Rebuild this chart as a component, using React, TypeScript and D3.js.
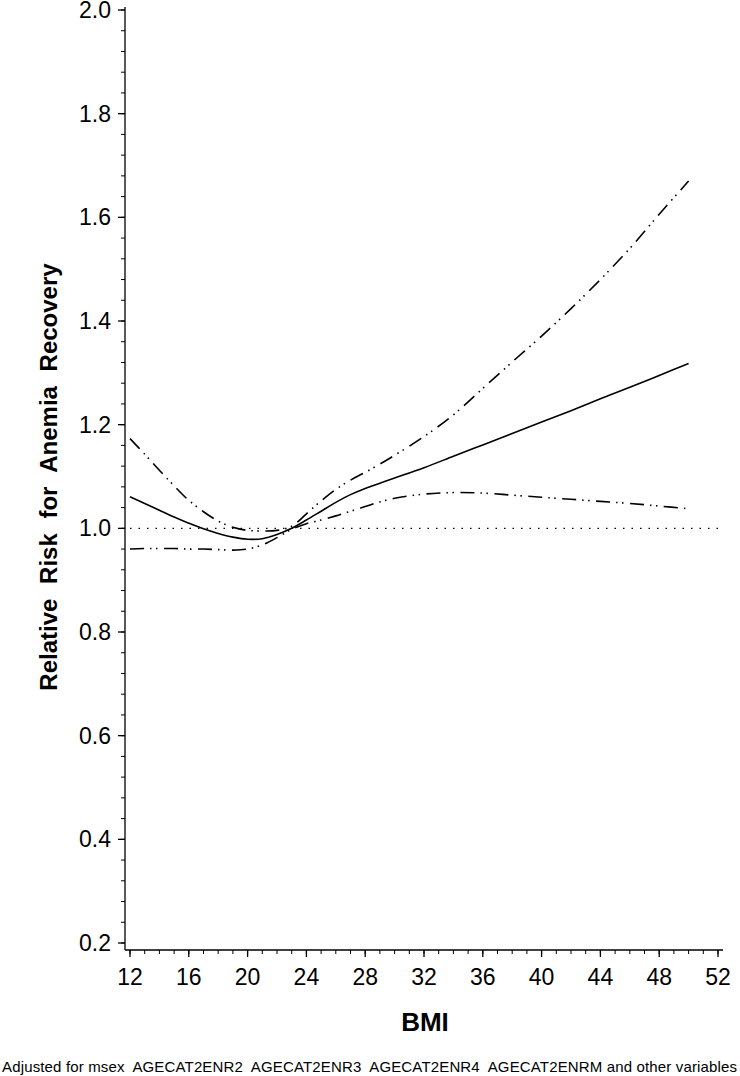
import React from "react";
import * as d3 from "d3";

const bmi = [12, 13, 14, 15, 16, 17, 18, 19, 20, 21, 22, 23, 24, 25, 26, 27, 28, 29, 30, 32, 34, 36, 38, 40, 42, 44, 46, 48, 50];
const estimate = [1.061, 1.048, 1.035, 1.022, 1.010, 0.999, 0.990, 0.983, 0.979, 0.980, 0.988, 1.000, 1.016, 1.033, 1.050, 1.065, 1.077, 1.087, 1.097, 1.117, 1.139, 1.161, 1.183, 1.205, 1.227, 1.250, 1.272, 1.295, 1.318];
const upper = [1.173, 1.143, 1.112, 1.082, 1.054, 1.032, 1.014, 1.002, 0.996, 0.995, 0.996, 1.004, 1.028, 1.053, 1.075, 1.093, 1.108, 1.124, 1.141, 1.177, 1.219, 1.270, 1.321, 1.371, 1.424, 1.480, 1.540, 1.606, 1.670];
const lower = [0.960, 0.961, 0.961, 0.961, 0.960, 0.960, 0.959, 0.958, 0.960, 0.968, 0.982, 0.998, 1.009, 1.016, 1.024, 1.033, 1.042, 1.051, 1.058, 1.066, 1.069, 1.068, 1.064, 1.060, 1.056, 1.052, 1.048, 1.043, 1.038];

const xMajorTicks = [12, 16, 20, 24, 28, 32, 36, 40, 44, 48, 52];
const yMajorTicks = [0.2, 0.4, 0.6, 0.8, 1.0, 1.2, 1.4, 1.6, 1.8, 2.0];
const referenceValue = 1.0;

const yTitle = "Relative Risk for Anemia Recovery";
const xTitle = "BMI";
const footnote = "Adjusted for msex  AGECAT2ENR2  AGECAT2ENR3  AGECAT2ENR4  AGECAT2ENRM and other variables";

const FONT = "'Liberation Sans', Arial, Helvetica, sans-serif";

export default function App() {
  const x = d3.scaleLinear().domain([12, 52]).range([130, 718]);
  const y = d3.scaleLinear().domain([0.2, 2.0]).range([943, 10]);
  const axisX = 125;
  const axisY = 950;

  const line = d3
    .line<[number, number]>()
    .x((d) => x(d[0]))
    .y((d) => y(d[1]))
    .curve(d3.curveCatmullRom.alpha(0.5));

  const est = line(bmi.map((b, i) => [b, estimate[i]]) as [number, number][]) || "";
  const up = line(bmi.map((b, i) => [b, upper[i]]) as [number, number][]) || "";
  const lo = line(bmi.map((b, i) => [b, lower[i]]) as [number, number][]) || "";

  const yMinor = d3.range(0, 46).map((i) => 0.2 + i * 0.04);
  const xMinor = d3.range(12, 53, 1);

  const dashDotDot = "14,6,1.5,4.5,1.5,6.5";

  return (
    <svg
      width={740}
      height={1076}
      style={{ position: "absolute", left: 0, top: 0, background: "#fff" }}
      fontFamily={FONT}
    >
      <rect x={0} y={0} width={740} height={1076} fill="#fff" />
      <line x1={axisX} x2={axisX} y1={7} y2={axisY} stroke="#000" strokeWidth={1.3} />
      <line x1={axisX} x2={723} y1={axisY} y2={axisY} stroke="#000" strokeWidth={1.3} />
      {yMinor.map((v, i) => (
        <line key={"ym" + i} x1={axisX - 4} x2={axisX} y1={y(v)} y2={y(v)} stroke="#000" strokeWidth={1} />
      ))}
      {yMajorTicks.map((v) => (
        <g key={"yM" + v}>
          <line x1={axisX - 7} x2={axisX} y1={y(v)} y2={y(v)} stroke="#000" strokeWidth={1.3} />
          <text x={111} y={y(v) + 8} textAnchor="end" fontSize={23} fill="#000">
            {d3.format(".1f")(v)}
          </text>
        </g>
      ))}
      {xMinor.map((v) => (
        <line key={"xm" + v} x1={x(v)} x2={x(v)} y1={axisY} y2={axisY + 4} stroke="#000" strokeWidth={1} />
      ))}
      {xMajorTicks.map((v) => (
        <g key={"xM" + v}>
          <line x1={x(v)} x2={x(v)} y1={axisY} y2={axisY + 7} stroke="#000" strokeWidth={1.3} />
          <text x={x(v)} y={985} textAnchor="middle" fontSize={23} fill="#000">
            {v}
          </text>
        </g>
      ))}
      <line
        x1={130}
        x2={723}
        y1={y(referenceValue)}
        y2={y(referenceValue)}
        stroke="#000"
        strokeWidth={1.3}
        strokeDasharray="1.5,7"
      />
      <path d={up} fill="none" stroke="#000" strokeWidth={1.6} strokeDasharray={dashDotDot} />
      <path d={lo} fill="none" stroke="#000" strokeWidth={1.6} strokeDasharray={dashDotDot} />
      <path d={est} fill="none" stroke="#000" strokeWidth={1.6} />
      <text
        transform={`translate(57,477) rotate(-90)`}
        textAnchor="middle"
        fontSize={24}
        fontWeight="bold"
        wordSpacing={8}
        fill="#000"
      >
        {yTitle}
      </text>
      <text x={425} y={1031} textAnchor="middle" fontSize={26} fontWeight="bold" fill="#000">
        {xTitle}
      </text>
      <text x={2} y={1072} fontSize={15} textLength={735} lengthAdjust="spacing" fill="#000" style={{ whiteSpace: "pre" }}>
        {footnote}
      </text>
    </svg>
  );
}
